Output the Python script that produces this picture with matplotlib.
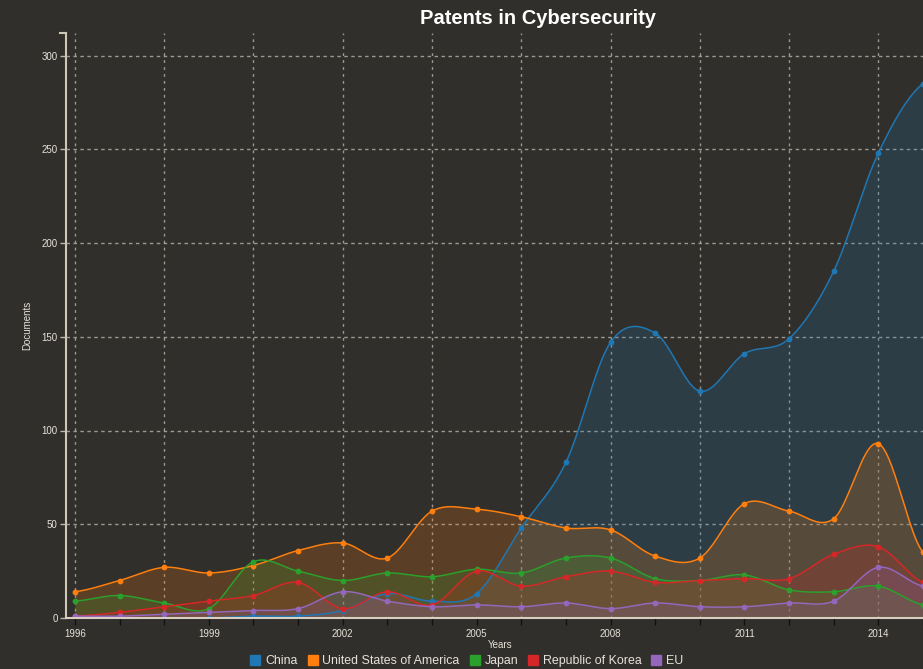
import numpy as np
import matplotlib.pyplot as plt
from matplotlib.lines import Line2D

# Data
years = list(range(1996, 2016))
china = [0, 0, 0, 0, 1, 1, 4, 13, 9, 13, 48, 83, 147, 152, 121, 141, 149, 185, 248, 285]
usa = [14, 20, 27, 24, 28, 36, 40, 32, 57, 58, 54, 48, 47, 33, 32, 61, 57, 53, 93, 35]
japan = [9, 12, 8, 5, 30, 25, 20, 24, 22, 26, 24, 32, 32, 21, 20, 23, 15, 14, 17, 7]
korea = [1, 3, 6, 9, 12, 19, 5, 14, 7, 25, 17, 22, 25, 19, 20, 21, 21, 34, 38, 19]
eu = [1, 1, 2, 3, 4, 5, 14, 9, 6, 7, 6, 8, 5, 8, 6, 6, 8, 9, 27, 17]

series_names = ["China", "United States of America", "Japan", "Republic of Korea", "EU"]
series_values = [china, usa, japan, korea, eu]
series_colors = ["#1f77b4", "#ff7f0e", "#2ca02c", "#d62728", "#9467bd"]

BG = "#312f2b"
TXT = "#e6e2da"


def cardinal(x, y, steps=24):
    # smooth curve through the points (catmull-rom style, like d3 curveCardinal)
    x = np.asarray(x, float)
    y = np.asarray(y, float)
    n = len(y)
    m = np.zeros(n)
    m[1:-1] = (y[2:] - y[:-2]) / 2
    m[0] = (y[1] - y[0]) / 2
    m[-1] = (y[-1] - y[-2]) / 2
    xs, ys = [], []
    t = np.linspace(0, 1, steps, endpoint=False)
    h00 = 2 * t**3 - 3 * t**2 + 1
    h10 = t**3 - 2 * t**2 + t
    h01 = -2 * t**3 + 3 * t**2
    h11 = t**3 - t**2
    for i in range(n - 1):
        xs.append(x[i] + t * (x[i + 1] - x[i]))
        ys.append(h00 * y[i] + h10 * m[i] + h01 * y[i + 1] + h11 * m[i + 1])
    xs.append([x[-1]])
    ys.append([y[-1]])
    return np.concatenate(xs), np.concatenate(ys)


plt.rcParams['font.family'] = ['Liberation Sans', 'DejaVu Sans']

fig = plt.figure(figsize=(9.23, 6.69), dpi=100, facecolor=BG)
ax = fig.add_axes([66 / 923, 1 - 618 / 669, 1 - 66 / 923, (618 - 33) / 669])
ax.set_facecolor(BG)

for name, vals, col in zip(series_names, series_values, series_colors):
    sx, sy = cardinal(years, vals)
    ax.fill_between(sx, 0, sy, color=col, alpha=0.2, linewidth=0)
    ax.plot(sx, sy, color=col, lw=1.1)
    ax.plot(years, vals, 'o', color=col, ms=4.2, mec='none')

ax.set_xlim(1995.8, 1996 + (923 - 75) / 44.75)
ax.set_ylim(0, 312)

# ticks every year, labels every third year, grid on even years
ax.set_xticks(years)
ax.set_xticklabels([str(y) if (y - 1996) % 3 == 0 else "" for y in years])
ax.xaxis.remove_overlapping_locs = False
ax.set_xticks(list(range(1996, 2016, 2)), minor=True)
ax.set_yticks(range(0, 301, 50))

ax.grid(axis='x', which='minor', color='#b8b4ac', linestyle=(0, (2, 3)), lw=1.0, alpha=0.8)
ax.grid(axis='x', which='major', visible=False)
ax.grid(axis='y', which='major', color='#b8b4ac', linestyle=(0, (2.5, 2.5)), lw=1.0, alpha=0.8)
ax.set_axisbelow(True)

ax.tick_params(axis='x', which='major', colors='#111111', length=5, width=1,
               labelcolor=TXT, labelsize=7, pad=3)
ax.tick_params(axis='x', which='minor', length=0)
ax.tick_params(axis='y', colors='#bdb8ae', length=4, width=1, labelcolor=TXT, labelsize=7, pad=2)

for s in ['top', 'right']:
    ax.spines[s].set_visible(False)
ax.spines['left'].set_color('#cfc6b6')
ax.spines['left'].set_linewidth(1.5)
ax.spines['bottom'].set_color('#d6cfc2')
ax.spines['bottom'].set_linewidth(1.5)
ax.add_line(Line2D([-6 / 857, 0], [1, 1], transform=ax.transAxes, color='#cfc6b6',
                   lw=1.5, clip_on=False))

ax.set_ylabel("Documents", color=TXT, fontsize=7, labelpad=7)
fig.text(500 / 923, 1 - 645 / 669, "Years", color=TXT, fontsize=7, ha='center', va='center')
fig.text(538 / 923, 1 - 19 / 669, "Patents in Cybersecurity", color='white', fontsize=14.5,
         fontweight='bold', ha='center', va='center')

handles = [Line2D([], [], marker='s', ls='none', color=c, ms=7.5) for c in series_colors]
fig.legend(handles, series_names, loc='center', bbox_to_anchor=(467 / 923, 1 - 661 / 669),
           ncol=5, frameon=False, fontsize=8.9, labelcolor=TXT, handletextpad=0.4,
           columnspacing=0.8, handlelength=0.8, borderpad=0)

fig.savefig("out.png", dpi=100, facecolor=BG)
